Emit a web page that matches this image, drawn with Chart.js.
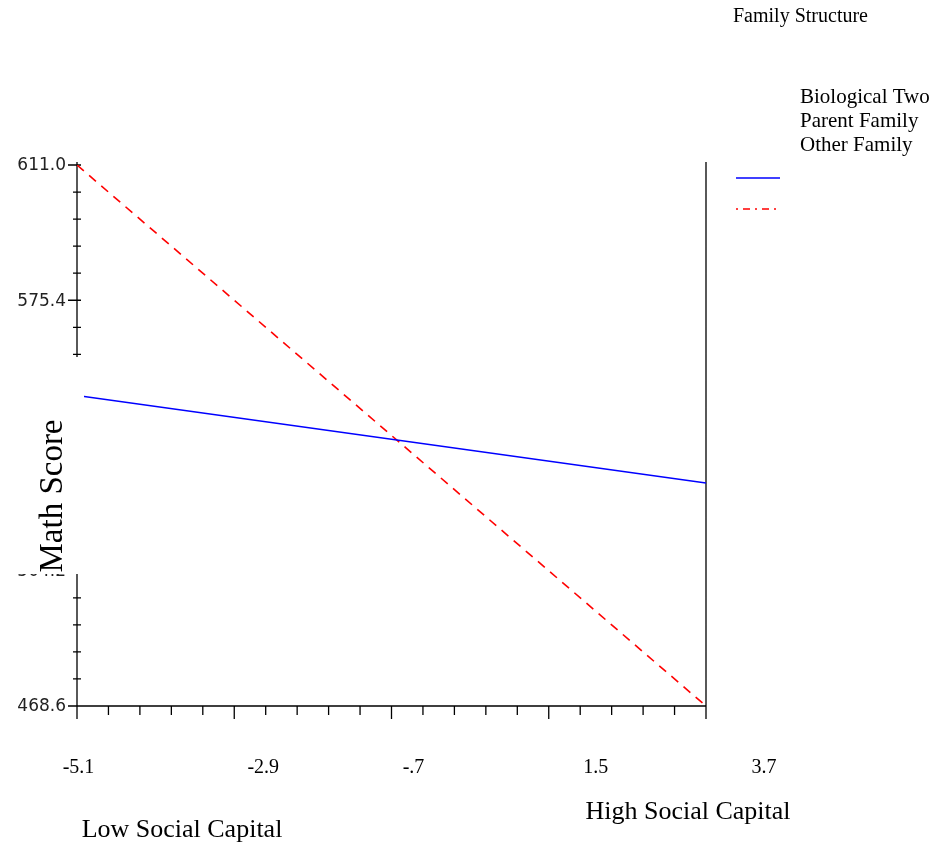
<!DOCTYPE html>
<html>
<head>
<meta charset="utf-8">
<title>Math Score by Social Capital</title>
<script src="https://cdn.jsdelivr.net/npm/chart.js@4.4.1/dist/chart.umd.min.js"></script>
<style>
  html, body { margin: 0; padding: 0; background: #fff; }
  #chart { display: block; }
</style>
</head>
<body>
<canvas id="chart" width="937" height="846"></canvas>
<script>
// data
const socialCapital = [-5.1, 3.7];
const bioTwoParent = [550.3, 527.3];
const otherFamily = [611.0, 468.6];
const seriesNames = ['Biological Two\nParent Family\nOther Family'];
const xTickValues = [-5.1, -2.9, -0.7, 1.5, 3.7];
const xTickLabels = ['-5.1', '-2.9', '-.7', '1.5', '3.7'];
const yTickValues = [611.0, 575.4, 539.8, 504.2, 468.6];
const yTickLabels = ['611.0', '575.4', '539.8', '504.2', '468.6'];

// layout (pixels)
const xLabelShift = [1.5, 29, 22, 47, 58];
const serif = '"Liberation Serif", "Times New Roman", serif';
const sans = '"DejaVu Sans", Verdana, sans-serif';

const points = (ys) => socialCapital.map((x, i) => ({ x, y: ys[i] }));

const axesPlugin = {
  id: 'axes',
  beforeDatasetsDraw(chart) {
    const { ctx, chartArea: a } = chart;
    const xs = chart.scales.x;
    const ys = chart.scales.y;
    ctx.save();
    ctx.strokeStyle = '#000';
    ctx.lineWidth = 1.3;
    ctx.beginPath();
    ctx.moveTo(a.left, a.top - 3);
    ctx.lineTo(a.left, a.bottom);
    ctx.lineTo(a.right, a.bottom);
    ctx.moveTo(a.right, a.top - 3);
    ctx.lineTo(a.right, a.bottom);
    // y ticks, 4 minor between majors
    const yStep = (yTickValues[0] - yTickValues[1]) / 5;
    for (let i = 0; i <= 20; i++) {
      const py = ys.getPixelForValue(yTickValues[0] - i * yStep);
      ctx.moveTo(a.left - (i % 5 === 0 ? 9 : 4), py);
      ctx.lineTo(a.left + 4, py);
    }
    const xStep = (xTickValues[1] - xTickValues[0]) / 5;
    for (let i = 0; i <= 20; i++) {
      const px = xs.getPixelForValue(xTickValues[0] + i * xStep);
      ctx.moveTo(px, a.bottom);
      ctx.lineTo(px, a.bottom + (i % 5 === 0 ? 13 : 9));
    }
    ctx.stroke();

    ctx.fillStyle = '#222';
    ctx.font = '17px ' + sans;
    ctx.textAlign = 'right';
    ctx.textBaseline = 'middle';
    yTickValues.forEach((v, i) => {
      ctx.fillText(yTickLabels[i], a.left - 11, ys.getPixelForValue(v) + 1);
    });
    ctx.restore();
  },
  afterDatasetsDraw(chart) {
    const { ctx } = chart;
    const xs = chart.scales.x;
    ctx.save();
    // box behind the y title hides part of the axis
    ctx.fillStyle = '#fff';
    ctx.fillRect(0, 357, 84, 217);

    ctx.fillStyle = '#000';
    ctx.textBaseline = 'middle';
    ctx.textAlign = 'center';

    ctx.font = '20px ' + serif;
    xTickValues.forEach((v, i) => {
      ctx.fillText(xTickLabels[i], xs.getPixelForValue(v) + xLabelShift[i], 768);
    });

    ctx.font = '26px ' + serif;
    ctx.fillText('Low Social Capital', 182, 830);
    ctx.fillText('High Social Capital', 688, 812);

    ctx.save();
    ctx.translate(62, 496);
    ctx.rotate(-Math.PI / 2);
    ctx.font = '33px ' + serif;
    ctx.textBaseline = 'alphabetic';
    ctx.fillText('Math Score', 0, 0);
    ctx.restore();

    // legend
    ctx.textAlign = 'left';
    ctx.font = '20px ' + serif;
    ctx.fillText('Family Structure', 733, 17);
    ctx.font = '21px ' + serif;
    seriesNames[0].split('\n').forEach((line, i) => {
      ctx.fillText(line, 800, 97 + i * 24);
    });
    ctx.lineWidth = 1.5;
    ctx.strokeStyle = '#0000ff';
    ctx.beginPath();
    ctx.moveTo(736, 178);
    ctx.lineTo(780, 178);
    ctx.stroke();
    ctx.strokeStyle = '#ff0000';
    ctx.setLineDash([2, 5, 7, 5]);
    ctx.beginPath();
    ctx.moveTo(736, 209);
    ctx.lineTo(780, 209);
    ctx.stroke();
    ctx.restore();
  }
};

new Chart(document.getElementById('chart'), {
  type: 'scatter',
  data: {
    datasets: [
      {
        label: 'Biological Two Parent Family',
        data: points(bioTwoParent),
        showLine: true,
        borderColor: '#0000ff',
        borderWidth: 1.5,
        pointRadius: 0,
      },
      {
        label: 'Other Family',
        data: points(otherFamily),
        showLine: true,
        borderColor: '#ff0000',
        borderWidth: 1.6,
        borderDash: [9, 7],
        pointRadius: 0,
      },
    ],
  },
  options: {
    responsive: false,
    animation: false,
    devicePixelRatio: 1,
    layout: { padding: { left: 77, top: 165, right: 231, bottom: 140 } },
    plugins: {
      legend: { display: false },
      tooltip: { enabled: false },
    },
    scales: {
      x: { type: 'linear', display: false, min: socialCapital[0], max: socialCapital[1] },
      y: { type: 'linear', display: false, min: otherFamily[1], max: otherFamily[0] },
    },
  },
  plugins: [axesPlugin],
});
</script>
</body>
</html>
